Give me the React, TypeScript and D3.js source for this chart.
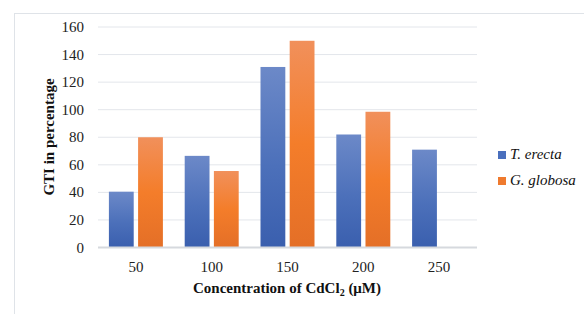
import * as React from 'react';
import * as d3 from 'd3';

const categories = ['50', '100', '150', '200', '250'];
const seriesNames = ['T. erecta', 'G. globosa'];
const tErecta = [40.5, 66.5, 131, 82, 71];
const gGlobosa = [80, 55.5, 150, 98.5, 0];
const yTicks = [0, 20, 40, 60, 80, 100, 120, 140, 160];

const W = 584;
const H = 314;
const font = 'Liberation Serif';

const App = () => {
  const values = [tErecta, gGlobosa];
  const x0 = d3.scaleBand().domain(categories).range([98, 477]).padding(0);
  const bw = x0.bandwidth();
  const x1 = d3
    .scaleBand()
    .domain(seriesNames)
    .range([(bw - 54) / 2, (bw + 54) / 2])
    .paddingInner(0.15);
  const y = d3.scaleLinear().domain([0, 160]).range([247.5, 27]);
  const fills = ['url(#gBlue)', 'url(#gOrange)'];
  const swatch = ['#4a6fbd', '#ef7a2e'];

  return (
    <svg
      width={W}
      height={H}
      style={{ position: 'absolute', left: 0, top: 0, background: '#fff', fontFamily: font }}>
      <defs>
        <linearGradient id='gBlue' x1='0' y1='0' x2='0' y2='1'>
          <stop offset='0%' stopColor='#6c89c8' />
          <stop offset='55%' stopColor='#4c70ba' />
          <stop offset='100%' stopColor='#3a5fae' />
        </linearGradient>
        <linearGradient id='gOrange' x1='0' y1='0' x2='0' y2='1'>
          <stop offset='0%' stopColor='#f1905b' />
          <stop offset='50%' stopColor='#f47d2a' />
          <stop offset='100%' stopColor='#e46f27' />
        </linearGradient>
      </defs>
      <rect x={14.5} y={13.5} width={W} height={H} fill='none' stroke='#dfe3e8' />

      {yTicks.map((t) => (
        <g key={t}>
          {t > 0 && (
            <line x1={98} x2={477} y1={y(t)} y2={y(t)} stroke='#e3e6eb' strokeWidth={1} />
          )}
          <text x={84} y={y(t) + 5} textAnchor='end' fontSize={15} fill='#222'>
            {t}
          </text>
        </g>
      ))}

      {categories.map((c, i) => (
        <g key={c} transform={`translate(${x0(c)},0)`}>
          {seriesNames.map((s, j) =>
            values[j][i] > 0 ? (
              <rect
                key={s}
                x={x1(s)}
                y={y(values[j][i])}
                width={x1.bandwidth()}
                height={y(0) - y(values[j][i])}
                fill={fills[j]}
              />
            ) : null
          )}
          <text x={bw / 2} y={272} textAnchor='middle' fontSize={15} fill='#222'>
            {c}
          </text>
        </g>
      ))}

      <line x1={98} x2={477} y1={y(0)} y2={y(0)} stroke='#d6d9de' strokeWidth={2} />

      <text
        transform={`translate(54,137) rotate(-90)`}
        textAnchor='middle'
        fontSize={15}
        fontWeight='bold'
        fill='#111'>
        GTI in percentage
      </text>
      <text x={287} y={293} textAnchor='middle' fontSize={15} fontWeight='bold' fill='#111'>
        Concentration of CdCl
        <tspan fontSize={10} dy={3}>2</tspan>
        <tspan dy={-3}> (μM)</tspan>
      </text>

      {seriesNames.map((s, j) => (
        <g key={s} transform={`translate(498,${151 + j * 26})`}>
          <rect width={8} height={8} fill={swatch[j]} />
          <text x={12} y={8} fontSize={15} fontStyle='italic' fill='#111'>
            {s}
          </text>
        </g>
      ))}
    </svg>
  );
};

export default App;
